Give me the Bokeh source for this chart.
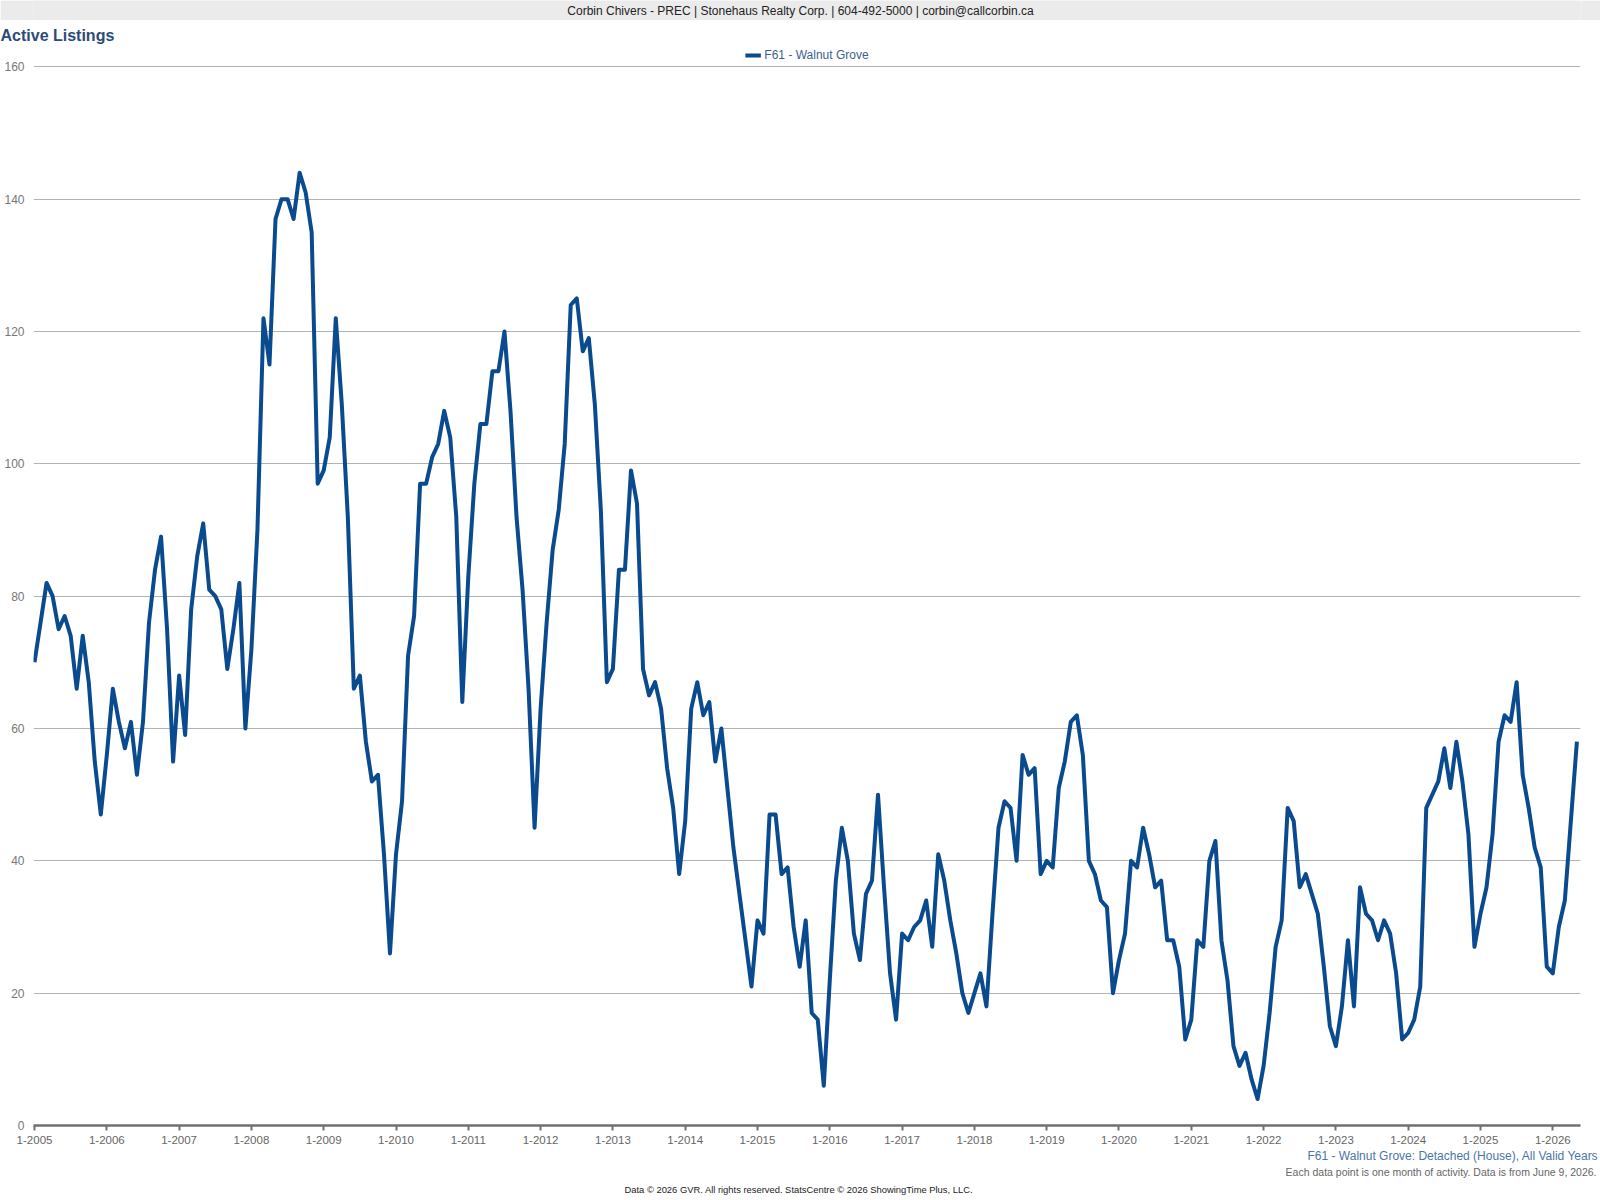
from bokeh.plotting import figure
from bokeh.layouts import column
from bokeh.models import (Range1d, FixedTicker, Label, Legend, LegendItem,
                          ColumnDataSource, Title)
from bokeh.embed import file_html
from bokeh.resources import INLINE

# ---------------- data ----------------
series_name = "F61 - Walnut Grove"
active_listings = [
    70, 76, 82, 80, 75, 77, 74, 66, 74, 67,
    55, 47, 56, 66, 61, 57, 61, 53, 61, 76,
    84, 89, 75, 55, 68, 59, 78, 86, 91, 81,
    80, 78, 69, 75, 82, 60, 72, 90, 122, 115,
    137, 140, 140, 137, 144, 141, 135, 97, 99, 104,
    122, 109, 92, 66, 68, 58, 52, 53, 41, 26,
    41, 49, 71, 77, 97, 97, 101, 103, 108, 104,
    92, 64, 83, 97, 106, 106, 114, 114, 120, 108,
    92, 81, 66, 45, 63, 76, 87, 93, 103, 124,
    125, 117, 119, 109, 93, 67, 69, 84, 84, 99,
    94, 69, 65, 67, 63, 54, 48, 38, 46, 63,
    67, 62, 64, 55, 60, 51, 42, 35, 28, 21,
    31, 29, 47, 47, 38, 39, 30, 24, 31, 17,
    16, 6, 22, 37, 45, 40, 29, 25, 35, 37,
    50, 36, 23, 16, 29, 28, 30, 31, 34, 27,
    41, 37, 31, 26, 20, 17, 20, 23, 18, 32,
    45, 49, 48, 40, 56, 53, 54, 38, 40, 39,
    51, 55, 61, 62, 56, 40, 38, 34, 33, 20,
    25, 29, 40, 39, 45, 41, 36, 37, 28, 28,
    24, 13, 16, 28, 27, 40, 43, 28, 22, 12,
    9, 11, 7, 4, 9, 17, 27, 31, 48, 46,
    36, 38, 35, 32, 24, 15, 12, 18, 28, 18,
    36, 32, 31, 28, 31, 29, 23, 13, 14, 16,
    21, 48, 50, 52, 57, 51, 58, 52, 44, 27,
    32, 36, 44, 58, 62, 61, 67, 53, 48, 42,
    39, 24, 23, 30, 34, 46, 58,
]
tick_labels = ["1-2005", "1-2006", "1-2007", "1-2008", "1-2009", "1-2010",
               "1-2011", "1-2012", "1-2013", "1-2014", "1-2015", "1-2016",
               "1-2017", "1-2018", "1-2019", "1-2020", "1-2021", "1-2022",
               "1-2023", "1-2024", "1-2025", "1-2026"]
y_ticks = [0, 20, 40, 60, 80, 100, 120, 140, 160]

header_text = "Corbin Chivers - PREC | Stonehaus Realty Corp. | 604-492-5000 | corbin@callcorbin.ca"
chart_title = "Active Listings"
subtitle_text = "F61 - Walnut Grove: Detached (House), All Valid Years"
note_text = "Each data point is one month of activity. Data is from June 9, 2026."
footer_text = "Data \u00a9 2026 GVR. All rights reserved. StatsCentre \u00a9 2026 ShowingTime Plus, LLC."

# ---------------- layout ----------------
W = 1600
BAND_H, MAIN_H = 20, 1180
BL, BR = 33, 20            # left / right borders of the plotting frame
FONT = "Liberation Sans"
LINE_COLOR = "#0a4a8f"
BAND_COLOR = "#ebebeb"

# --- header band (whole strip is grey)
band = figure(width=W, height=BAND_H, output_backend="svg", toolbar_location=None,
              x_range=Range1d(BL, W - BR), y_range=Range1d(0, BAND_H),
              x_axis_location=None, y_axis_location=None, title=None,
              min_border_left=BL, min_border_right=BR,
              min_border_top=0, min_border_bottom=0)
band.outline_line_color = None
band.grid.grid_line_color = None
band.background_fill_color = BAND_COLOR
band.border_fill_color = BAND_COLOR
band.add_layout(Label(x=800, y=9.5, text=header_text, text_align="center",
                      text_baseline="middle", text_font=FONT,
                      text_font_size="12px", text_color="#222222"))

# --- main chart
month_index = list(range(len(active_listings)))
src = ColumnDataSource(dict(x=month_index, y=active_listings))

p = figure(width=W, height=MAIN_H, output_backend="svg", toolbar_location=None,
           x_range=Range1d(-0.17, 256.6), y_range=Range1d(0, 163.37),
           title=None, min_border_left=BL, min_border_right=BR,
           min_border_top=24, min_border_bottom=75)
p.outline_line_color = None
p.background_fill_color = "white"
p.border_fill_color = "white"

r = p.line(x="x", y="y", source=src, line_color=LINE_COLOR, line_width=4,
           line_join="round")

tick_pos = [12 * k for k in range(len(tick_labels))]
p.xaxis.ticker = FixedTicker(ticks=tick_pos)
p.xaxis.major_label_overrides = {t: lbl for t, lbl in zip(tick_pos, tick_labels)}
p.xaxis.major_label_text_font = FONT
p.xaxis.major_label_text_font_size = "11.5px"
p.xaxis.major_label_text_color = "#666666"
p.xaxis.major_label_standoff = 5
p.xaxis.axis_line_color = "#707070"
p.xaxis.axis_line_width = 2.5
p.xaxis.major_tick_line_color = "#707070"
p.xaxis.major_tick_line_width = 2
p.xaxis.major_tick_out = 5
p.xaxis.major_tick_in = 0
p.xaxis.minor_tick_line_color = None

p.yaxis.ticker = FixedTicker(ticks=y_ticks)
p.yaxis.major_label_text_font = FONT
p.yaxis.major_label_text_font_size = "12px"
p.yaxis.major_label_text_color = "#777777"
p.yaxis.major_label_standoff = 9
p.yaxis.axis_line_color = None
p.yaxis.major_tick_line_color = None
p.yaxis.minor_tick_line_color = None
p.yaxis.major_tick_out = 0
p.yaxis.major_tick_in = 0

p.xgrid.grid_line_color = None
p.ygrid.ticker = FixedTicker(ticks=y_ticks)
p.ygrid.grid_line_color = "#b3b3b3"
p.ygrid.grid_line_width = 1

legend = Legend(items=[LegendItem(label=series_name, renderers=[r])],
                location="top_center", orientation="horizontal",
                glyph_width=16, glyph_height=14, label_height=14,
                label_standoff=4, padding=0, margin=4, spacing=0,
                border_line_color=None, background_fill_alpha=0,
                label_text_font=FONT, label_text_font_size="12px",
                label_text_color="#3c5f8f")
p.add_layout(legend, "center")

# chart title above the frame
p.add_layout(Title(text=chart_title, align="left", offset=-33, standoff=1,
                   text_font=FONT, text_font_size="16px",
                   text_font_style="bold", text_color="#2b4c76"), "above")

# texts below the x axis
p.add_layout(Title(text=subtitle_text, align="right", offset=-18, standoff=0,
                   text_font=FONT, text_font_size="12px",
                   text_font_style="normal", text_color="#4a76aa"), "below")
p.add_layout(Title(text=note_text, align="right", offset=-16, standoff=2,
                   text_font=FONT, text_font_size="10.5px",
                   text_font_style="normal", text_color="#666666"), "below")
p.add_layout(Title(text=footer_text, align="left", offset=591, standoff=6,
                   text_font=FONT, text_font_size="9.4px",
                   text_font_style="normal", text_color="#222222"), "below")

layout = column(band, p, spacing=0)
open("out.html", "w").write(file_html(layout, INLINE))
